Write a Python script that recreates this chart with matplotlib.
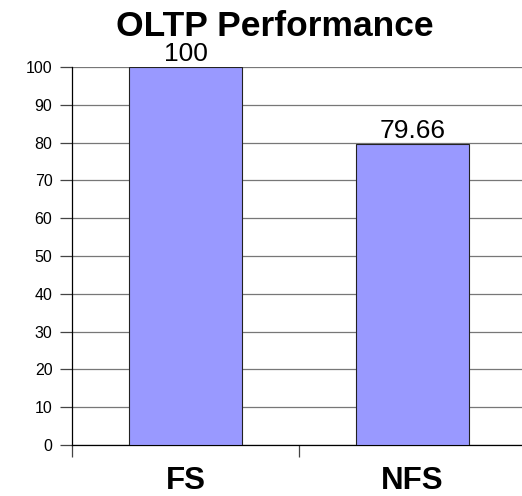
import matplotlib
matplotlib.use("Agg")
import matplotlib.pyplot as plt
from matplotlib.transforms import blended_transform_factory

categories = ["FS", "NFS"]
values = [100, 79.66]
value_labels = ["100", "79.66"]
yticks = list(range(0, 101, 10))

plt.rcParams['font.family'] = ['Liberation Sans', 'DejaVu Sans']

fig = plt.figure(figsize=(5.22, 4.96), dpi=100)
W, H = 522, 496
ax = fig.add_axes([72 / W, 1 - 445 / H, 1 - 72 / W, (445 - 67) / H])

x = list(range(len(categories)))
ax.bar(x, values, width=0.5, color="#9999FF", edgecolor="#222222", linewidth=0.8, zorder=3)
for xi, v, lab in zip(x, values, value_labels):
    ax.annotate(lab, (xi, v), xytext=(0, 4.5), textcoords="offset points",
                ha="center", va="baseline", fontsize=19, zorder=4)

ax.set_ylim(0, 100)
ax.set_xlim(-0.5, 1.5 - 4 / 227)
ax.set_yticks(yticks)
ax.set_yticklabels([str(t) for t in yticks], fontsize=11.5)
ax.yaxis.grid(True, color="#777777", linewidth=0.9, zorder=0)
ax.set_axisbelow(True)

ax.set_xticks([-0.5, 0.5])
ax.set_xticklabels([])
ax.tick_params(axis="x", length=8.6, width=0.9, color="#444444")
ax.tick_params(axis="y", length=8.6, width=0.9, color="#444444", pad=5.5)
tr = blended_transform_factory(ax.transData, fig.transFigure)
for xi, c in zip(x, categories):
    ax.text(xi, 7 / H, c, transform=tr, ha="center", va="baseline",
            fontsize=22.5, fontweight="bold", clip_on=False)

for s in ["top", "right"]:
    ax.spines[s].set_visible(False)
ax.spines["left"].set_color("black")
ax.spines["bottom"].set_color("black")
ax.spines["left"].set_linewidth(0.9)
ax.spines["bottom"].set_linewidth(0.9)

fig.text(274.5 / W, 1 - 36 / H, "OLTP Performance", ha="center", va="baseline",
         fontsize=25.5, fontweight="bold")

fig.savefig("out.png", dpi=100)
